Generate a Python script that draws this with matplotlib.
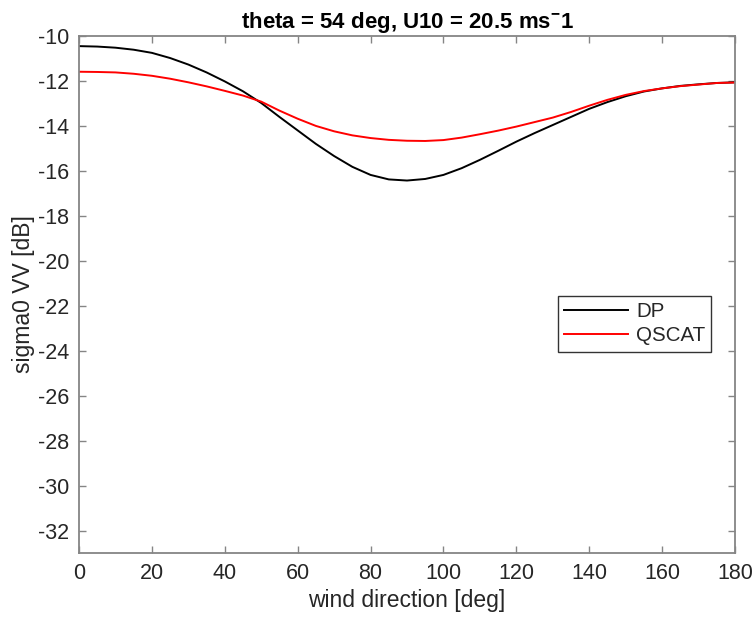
import matplotlib
matplotlib.use("Agg")
import matplotlib.pyplot as plt
import numpy as np

plt.rcParams['font.family'] = ['Liberation Sans', 'DejaVu Sans']
plt.rcParams['axes.unicode_minus'] = False
plt.rcParams['mathtext.fontset'] = 'custom'
plt.rcParams['mathtext.rm'] = 'Liberation Sans:bold'
plt.rcParams['mathtext.bf'] = 'Liberation Sans:bold'

wind_dir = [0, 5, 10, 15, 20, 25, 30, 35, 40, 45, 50, 55, 60, 65, 70, 75, 80, 85, 90,
            95, 100, 105, 110, 115, 120, 125, 130, 135, 140, 145, 150, 155, 160, 165,
            170, 175, 180]
dp = [-10.45, -10.47, -10.52, -10.61, -10.75, -10.98, -11.27, -11.62, -12.02, -12.46,
      -12.98, -13.60, -14.20, -14.80, -15.34, -15.82, -16.18, -16.38, -16.43,
      -16.36, -16.18, -15.88, -15.51, -15.11, -14.70, -14.32, -13.96, -13.60,
      -13.24, -12.94, -12.68, -12.47, -12.33, -12.22, -12.15, -12.09, -12.06]
qscat = [-11.59, -11.60, -11.62, -11.68, -11.77, -11.90, -12.06, -12.24, -12.44, -12.65,
         -12.92, -13.32, -13.68, -14.00, -14.24, -14.42, -14.54, -14.62, -14.66,
         -14.67, -14.63, -14.52, -14.37, -14.21, -14.03, -13.83, -13.63, -13.38,
         -13.10, -12.84, -12.62, -12.45, -12.33, -12.23, -12.16, -12.09, -12.07]

xticks = list(range(0, 181, 20))
yticks = list(range(-32, -9, 2))

fig = plt.figure(figsize=(7.54, 6.17), dpi=100)
ax = fig.add_axes([79/754, 1-553/617, (735-79)/754, (553-36)/617])

ax.plot(wind_dir, dp, color='black', lw=1.4, label='DP')
ax.plot(wind_dir, qscat, color='#ff0000', lw=1.4, label='QSCAT')

ax.set_xlim(0, 180)
ax.set_ylim(-33, -10)
ax.set_xticks(xticks)
ax.set_yticks(yticks)

txtc = '#262626'
spc = '#858585'
for s in ax.spines.values():
    s.set_color(spc)
    s.set_linewidth(1.3)
ax.tick_params(direction='in', length=5, width=1.0, color=spc, labelcolor=txtc,
               labelsize=15.5, top=True, right=True, pad=7)

ax.set_xlabel('wind direction [deg]', fontsize=16.5, color=txtc, labelpad=4)
ax.set_ylabel('sigma0 VV [dB]', fontsize=16.5, color=txtc, labelpad=2)
ax.set_title(r'theta = 54 deg, U10 = 20.5 ms$^{\mathbf{-}}$1', fontsize=16,
             fontweight='bold', color='black', pad=6)

leg = ax.legend(loc='upper left', bbox_to_anchor=(0.730, 0.497), fontsize=14.8,
                frameon=True, fancybox=False, edgecolor='#333333', framealpha=1,
                handlelength=3.1, borderpad=0.3, labelspacing=0.25, handletextpad=0.4,
                borderaxespad=0)
leg.get_frame().set_linewidth(1.0)
for t in leg.get_texts():
    t.set_color(txtc)

fig.savefig('out.png', dpi=100)
